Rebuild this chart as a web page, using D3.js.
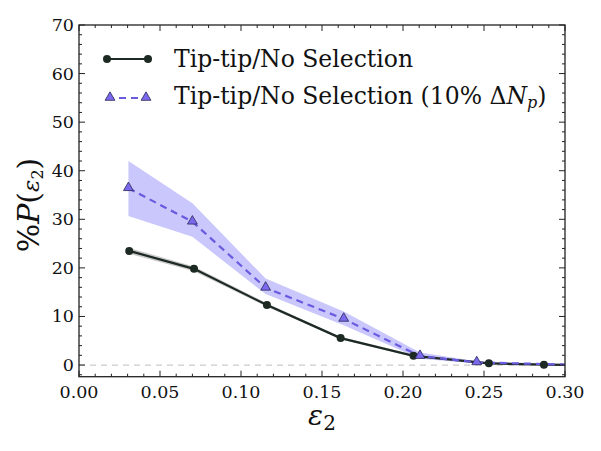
<!DOCTYPE html>
<html><head><meta charset="utf-8">
<script src="https://cdn.jsdelivr.net/npm/d3@7"></script>
<style>body{margin:0;background:#fff}svg{display:block}</style>
</head><body>
<script>
// Data
const xA = [0.031, 0.071, 0.116, 0.1615, 0.2065, 0.253, 0.287, 0.325];
const yA = [23.5, 19.8, 12.35, 5.55, 1.9, 0.35, 0.07, 0.0];
const yAlo = [22.9, 19.3, 12.0, 5.3, 1.7, 0.25, 0.03, 0.0];
const yAhi = [24.1, 20.3, 12.7, 5.8, 2.1, 0.45, 0.1, 0.0];
const xB = [0.0305, 0.070, 0.1152, 0.1634, 0.2105, 0.2455, 0.31];
const yB = [36.4, 29.5, 15.9, 9.5, 1.85, 0.55, 0.02];
const yBlo = [30.7, 26.4, 14.6, 8.2, 1.3, 0.3, 0.0];
const yBhi = [42.0, 33.3, 17.8, 11.0, 2.6, 0.8, 0.05];
const xMajor = [0.00, 0.05, 0.10, 0.15, 0.20, 0.25, 0.30];
const yMajor = [0, 10, 20, 30, 40, 50, 60, 70];
const labelA = "Tip-tip/No Selection";
const labelB = "Tip-tip/No Selection (10% ";

const W = 601, H = 451;
const L = 79, R = 565, T = 25, B = 376.7;
const x = d3.scaleLinear().domain([0, 0.30]).range([L, R]);
const y = d3.scaleLinear().domain([-2.4, 70]).range([B, T]);
const font = "'DejaVu Serif', serif";
const cA = "#1d2a24", cB = "#6a5ae0";

const svg = d3.select("body").append("svg").attr("width", W).attr("height", H);
svg.append("defs").append("clipPath").attr("id", "clip")
  .append("rect").attr("x", L).attr("y", T).attr("width", R - L).attr("height", B - T);
const g = svg.append("g").attr("clip-path", "url(#clip)");

// zero line
g.append("line").attr("x1", L).attr("x2", R).attr("y1", y(0)).attr("y2", y(0))
  .attr("stroke", "#cccccc").attr("stroke-width", 1.2).attr("stroke-dasharray", "6,5");

const A = xA.map((v, i) => ({x: v, y: yA[i], lo: yAlo[i], hi: yAhi[i]}));
const Bd = xB.map((v, i) => ({x: v, y: yB[i], lo: yBlo[i], hi: yBhi[i]}));

const area = d3.area().x(d => x(d.x)).y0(d => y(d.lo)).y1(d => y(d.hi));
const line = d3.line().x(d => x(d.x)).y(d => y(d.y));

g.append("path").datum(Bd).attr("d", area).attr("fill", "#c9c7fb");
g.append("path").datum(A).attr("d", area).attr("fill", "#bdbdbd").attr("opacity", 0.8);

g.append("path").datum(A).attr("d", line).attr("fill", "none").attr("stroke", cA).attr("stroke-width", 2.2);
g.append("path").datum(Bd).attr("d", line).attr("fill", "none").attr("stroke", cB)
  .attr("stroke-width", 2.2).attr("stroke-dasharray", "7,5");

const tri = d3.symbol().type(d3.symbolTriangle).size(42);
g.selectAll(".ca").data(A).join("circle").attr("cx", d => x(d.x)).attr("cy", d => y(d.y))
  .attr("r", 4).attr("fill", cA);
g.selectAll(".tb").data(Bd).join("path").attr("d", tri)
  .attr("transform", d => `translate(${x(d.x)},${y(d.y) - 0.5})`)
  .attr("fill", "#7b68ee").attr("stroke", "#2a2a55").attr("stroke-width", 0.8);

// frame
svg.append("rect").attr("x", L).attr("y", T).attr("width", R - L).attr("height", B - T)
  .attr("fill", "none").attr("stroke", "#222").attr("stroke-width", 1.3);

// ticks
const xMinor = d3.range(0, 31).map(i => i / 100).filter(v => !xMajor.some(m => Math.abs(m - v) < 1e-9));
const yMinor = d3.range(-2, 71, 2).filter(v => v % 10 !== 0);
const tk = svg.append("g").attr("stroke", "#222").attr("stroke-width", 1);
xMajor.forEach(v => {
  tk.append("line").attr("x1", x(v)).attr("x2", x(v)).attr("y1", B).attr("y2", B - 6);
  tk.append("line").attr("x1", x(v)).attr("x2", x(v)).attr("y1", T).attr("y2", T + 6);
});
xMinor.forEach(v => {
  tk.append("line").attr("x1", x(v)).attr("x2", x(v)).attr("y1", B).attr("y2", B - 3);
  tk.append("line").attr("x1", x(v)).attr("x2", x(v)).attr("y1", T).attr("y2", T + 3);
});
yMajor.forEach(v => {
  tk.append("line").attr("y1", y(v)).attr("y2", y(v)).attr("x1", L).attr("x2", L + 6);
  tk.append("line").attr("y1", y(v)).attr("y2", y(v)).attr("x1", R).attr("x2", R - 6);
});
yMinor.forEach(v => {
  tk.append("line").attr("y1", y(v)).attr("y2", y(v)).attr("x1", L).attr("x2", L + 3);
  tk.append("line").attr("y1", y(v)).attr("y2", y(v)).attr("x1", R).attr("x2", R - 3);
});

// tick labels
svg.selectAll(".xl").data(xMajor).join("text").attr("x", d => x(d)).attr("y", B + 21)
  .attr("text-anchor", "middle").attr("font-family", font).attr("font-size", 17.5)
  .attr("fill", "#111").text(d => d.toFixed(2));
svg.selectAll(".yl").data(yMajor).join("text").attr("x", L - 5).attr("y", d => y(d) + 6)
  .attr("text-anchor", "end").attr("font-family", font).attr("font-size", 17.5)
  .attr("fill", "#111").text(d => d);

// axis labels
const xl = svg.append("text").attr("x", 322).attr("y", 425).attr("text-anchor", "middle")
  .attr("font-family", font).attr("font-size", 28).attr("fill", "#111");
xl.append("tspan").attr("font-style", "italic").text("ε");
xl.append("tspan").attr("font-size", 20).attr("dy", 5).text("2");

const yl = svg.append("text").attr("transform", "translate(39,205) rotate(-90)")
  .attr("text-anchor", "middle").attr("font-family", font).attr("font-size", 30).attr("fill", "#111");
yl.append("tspan").text("%");
yl.append("tspan").attr("font-style", "italic").text("P");
yl.append("tspan").text("(");
yl.append("tspan").attr("font-style", "italic").attr("font-size", 23).text("ε");
yl.append("tspan").attr("font-size", 16).attr("dy", 4).text("2");
yl.append("tspan").attr("dy", -4).text(")");

// legend
const ly1 = 59, ly2 = 98;
svg.append("line").attr("x1", 107).attr("x2", 148).attr("y1", ly1).attr("y2", ly1)
  .attr("stroke", cA).attr("stroke-width", 2.2);
[107, 148].forEach(px => svg.append("circle").attr("cx", px).attr("cy", ly1).attr("r", 4).attr("fill", cA));
svg.append("line").attr("x1", 107).attr("x2", 148).attr("y1", ly2).attr("y2", ly2)
  .attr("stroke", cB).attr("stroke-width", 2.2).attr("stroke-dasharray", "7,5");
[110, 146].forEach(px => svg.append("path").attr("d", tri).attr("transform", `translate(${px},${ly2 - 0.5})`)
  .attr("fill", "#7b68ee").attr("stroke", "#2a2a55").attr("stroke-width", 0.8));

svg.append("text").attr("x", 174).attr("y", 67).attr("font-family", font).attr("font-size", 23.5)
  .attr("fill", "#111").text(labelA);
const t2 = svg.append("text").attr("x", 174).attr("y", 104).attr("font-family", font).attr("font-size", 23.5)
  .attr("fill", "#111");
t2.append("tspan").text(labelB);
t2.append("tspan").text("Δ");
t2.append("tspan").attr("font-style", "italic").text("N");
t2.append("tspan").attr("font-style", "italic").attr("font-size", 16).attr("dy", 4).text("p");
t2.append("tspan").attr("dy", -4).text(")");
</script>
</body></html>
